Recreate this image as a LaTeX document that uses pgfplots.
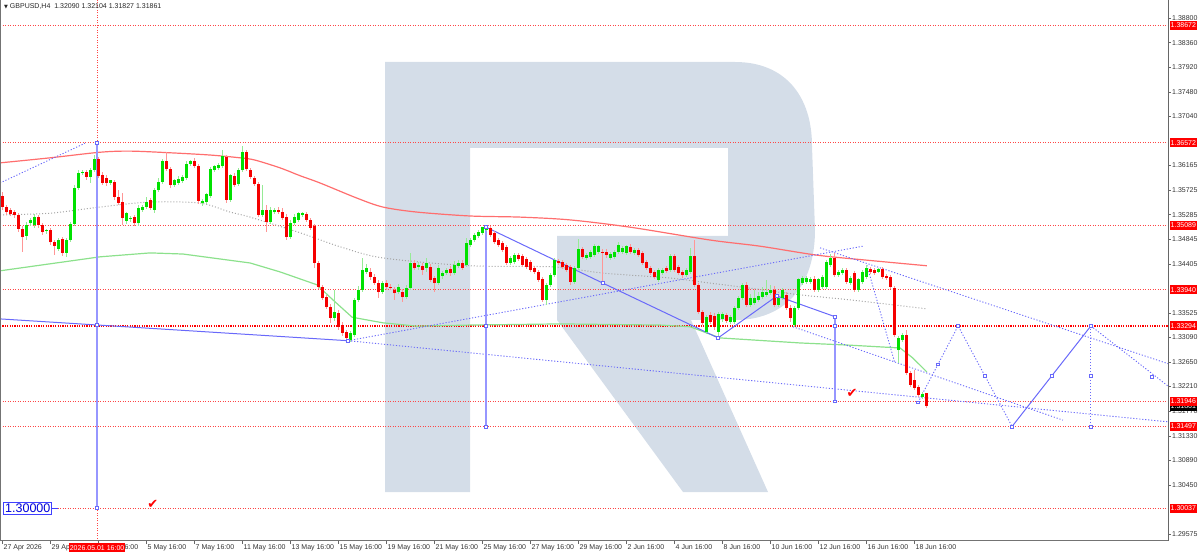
\documentclass[border=0pt]{standalone}
\usepackage{fontspec}
\setmainfont{Liberation Sans}
\newfontfamily\dejavu{DejaVu Sans}
\usepackage{pgfplots}
\usepackage{pgfplotstable}
\pgfplotsset{compat=1.18}
\definecolor{bullG}{RGB}{0,225,0}
\definecolor{bearR}{RGB}{245,0,0}
\definecolor{wickG}{RGB}{150,235,150}
\definecolor{wickR}{RGB}{255,150,150}
\definecolor{maRed}{RGB}{255,110,110}
\definecolor{maGray}{RGB}{165,165,165}
\definecolor{maGreen}{RGB}{140,225,140}
\definecolor{lvl}{RGB}{255,70,70}
\definecolor{fcBlue}{RGB}{105,105,250}
\definecolor{vBlue}{RGB}{150,150,255}
\definecolor{wm}{RGB}{212,221,232}
\newcommand\fs{\fontsize{7}{8}\selectfont}
\newcommand\plabel[2]{\node[anchor=west, fill=#1, text=white, font=\fs, inner xsep=1pt, inner ysep=0pt, minimum height=9pt]
    at (axis cs:291.375,#2) [xshift=1.5pt] {#2};}

% GBPUSD H4 candles: bar index, open, high, low, close
\pgfplotstableread{
i o h l c
0 1.3562 1.3569 1.3537 1.3542
1 1.3542 1.3546 1.3528 1.3533
2 1.3537 1.3540 1.3526 1.3530
3 1.3533 1.3537 1.3522 1.3528
4 1.3528 1.3531 1.3497 1.3503
5 1.3503 1.3508 1.3462 1.3488
6 1.3490 1.3515 1.3483 1.3510
7 1.3513 1.3522 1.3508 1.3519
8 1.3510 1.3530 1.3505 1.3524
9 1.3524 1.3528 1.3505 1.3510
10 1.3510 1.3513 1.3492 1.3497
11 1.3499 1.3503 1.3494 1.3501
12 1.3501 1.3505 1.3474 1.3479
13 1.3479 1.3483 1.3456 1.3472
14 1.3467 1.3487 1.3463 1.3483
15 1.3485 1.3488 1.3454 1.3460
16 1.3460 1.3487 1.3453 1.3483
17 1.3483 1.3515 1.3479 1.3512
18 1.3512 1.3581 1.3508 1.3576
19 1.3576 1.3608 1.3572 1.3603
20 1.3603 1.3608 1.3599 1.3605
21 1.3605 1.3608 1.3590 1.3596
22 1.3596 1.3612 1.3585 1.3608
23 1.3608 1.3635 1.3605 1.3628
24 1.3628 1.3632 1.3594 1.3598
25 1.3599 1.3605 1.3581 1.3585
26 1.3594 1.3599 1.3580 1.3585
27 1.3585 1.3590 1.3581 1.3589
28 1.3587 1.3590 1.3555 1.3560
29 1.3560 1.3572 1.3546 1.3549
30 1.3551 1.3567 1.3510 1.3522
31 1.3517 1.3533 1.3512 1.3530
32 1.3521 1.3526 1.3515 1.3522
33 1.3524 1.3528 1.3508 1.3513
34 1.3513 1.3546 1.3508 1.3540
35 1.3537 1.3546 1.3533 1.3542
36 1.3542 1.3560 1.3538 1.3551
37 1.3555 1.3558 1.3537 1.3540
38 1.3537 1.3576 1.3531 1.3572
39 1.3572 1.3594 1.3569 1.3587
40 1.3587 1.3628 1.3583 1.3624
41 1.3624 1.3640 1.3606 1.3610
42 1.3610 1.3614 1.3576 1.3581
43 1.3581 1.3592 1.3578 1.3589
44 1.3585 1.3598 1.3581 1.3592
45 1.3589 1.3599 1.3585 1.3596
46 1.3594 1.3624 1.3590 1.3619
47 1.3619 1.3626 1.3615 1.3624
48 1.3624 1.3630 1.3612 1.3615
49 1.3615 1.3619 1.3547 1.3553
50 1.3549 1.3556 1.3544 1.3553
51 1.3551 1.3567 1.3547 1.3564
52 1.3562 1.3614 1.3558 1.3610
53 1.3608 1.3617 1.3605 1.3614
54 1.3612 1.3621 1.3608 1.3617
55 1.3615 1.3644 1.3612 1.3633
56 1.3632 1.3635 1.3549 1.3555
57 1.3555 1.3601 1.3551 1.3598
58 1.3598 1.3603 1.3578 1.3581
59 1.3583 1.3612 1.3580 1.3608
60 1.3608 1.3651 1.3605 1.3640
61 1.3640 1.3644 1.3606 1.3610
62 1.3608 1.3612 1.3592 1.3596
63 1.3594 1.3598 1.3580 1.3583
64 1.3583 1.3587 1.3524 1.3528
65 1.3528 1.3581 1.3524 1.3537
66 1.3537 1.3546 1.3497 1.3515
67 1.3515 1.3542 1.3512 1.3537
68 1.3533 1.3540 1.3530 1.3537
69 1.3537 1.3542 1.3530 1.3533
70 1.3533 1.3540 1.3519 1.3522
71 1.3524 1.3530 1.3483 1.3488
72 1.3488 1.3519 1.3485 1.3513
73 1.3513 1.3530 1.3510 1.3524
74 1.3519 1.3533 1.3515 1.3530
75 1.3528 1.3533 1.3524 1.3530
76 1.3530 1.3533 1.3515 1.3519
77 1.3519 1.3522 1.3501 1.3505
78 1.3508 1.3512 1.3433 1.3442
79 1.3442 1.3446 1.3395 1.3399
80 1.3399 1.3403 1.3376 1.3379
81 1.3381 1.3385 1.3360 1.3363
82 1.3363 1.3369 1.3335 1.3344
83 1.3344 1.3394 1.3338 1.3353
84 1.3353 1.3358 1.3322 1.3328
85 1.3331 1.3336 1.3311 1.3317
86 1.3319 1.3322 1.3304 1.3308
87 1.3304 1.3320 1.3301 1.3317
88 1.3313 1.3379 1.3310 1.3376
89 1.3376 1.3401 1.3372 1.3394
90 1.3394 1.3451 1.3390 1.3429
91 1.3426 1.3440 1.3422 1.3433
92 1.3426 1.3433 1.3412 1.3417
93 1.3417 1.3422 1.3403 1.3406
94 1.3406 1.3412 1.3379 1.3390
95 1.3390 1.3410 1.3387 1.3406
96 1.3406 1.3412 1.3394 1.3399
97 1.3399 1.3404 1.3394 1.3397
98 1.3394 1.3399 1.3376 1.3388
99 1.3390 1.3404 1.3387 1.3399
100 1.3390 1.3395 1.3372 1.3381
101 1.3381 1.3403 1.3378 1.3397
102 1.3397 1.3460 1.3394 1.3442
103 1.3442 1.3447 1.3429 1.3433
104 1.3435 1.3444 1.3429 1.3437
105 1.3437 1.3442 1.3420 1.3429
106 1.3433 1.3451 1.3426 1.3442
107 1.3435 1.3440 1.3408 1.3412
108 1.3415 1.3419 1.3390 1.3406
109 1.3406 1.3438 1.3403 1.3433
110 1.3419 1.3428 1.3413 1.3424
111 1.3424 1.3433 1.3420 1.3429
112 1.3431 1.3437 1.3419 1.3424
113 1.3424 1.3446 1.3420 1.3438
114 1.3437 1.3447 1.3433 1.3442
115 1.3442 1.3447 1.3429 1.3433
116 1.3438 1.3487 1.3435 1.3478
117 1.3474 1.3487 1.3471 1.3483
118 1.3483 1.3496 1.3479 1.3492
119 1.3490 1.3501 1.3487 1.3497
120 1.3496 1.3506 1.3492 1.3505
121 1.3501 1.3510 1.3499 1.3506
122 1.3505 1.3508 1.3488 1.3492
123 1.3496 1.3499 1.3476 1.3479
124 1.3483 1.3487 1.3471 1.3474
125 1.3478 1.3481 1.3462 1.3465
126 1.3471 1.3474 1.3438 1.3442
127 1.3442 1.3454 1.3438 1.3451
128 1.3444 1.3460 1.3440 1.3456
129 1.3456 1.3460 1.3446 1.3449
130 1.3454 1.3458 1.3435 1.3438
131 1.3449 1.3453 1.3431 1.3435
132 1.3444 1.3447 1.3426 1.3429
133 1.3433 1.3437 1.3422 1.3426
134 1.3426 1.3429 1.3408 1.3412
135 1.3413 1.3417 1.3372 1.3376
136 1.3376 1.3406 1.3367 1.3403
137 1.3403 1.3424 1.3399 1.3420
138 1.3420 1.3451 1.3417 1.3447
139 1.3446 1.3449 1.3438 1.3442
140 1.3444 1.3447 1.3431 1.3435
141 1.3438 1.3442 1.3426 1.3429
142 1.3435 1.3438 1.3403 1.3408
143 1.3408 1.3437 1.3404 1.3433
144 1.3433 1.3485 1.3429 1.3467
145 1.3467 1.3471 1.3449 1.3453
146 1.3451 1.3460 1.3447 1.3456
147 1.3453 1.3465 1.3449 1.3462
148 1.3456 1.3476 1.3453 1.3471
149 1.3462 1.3474 1.3458 1.3471
150 1.3462 1.3467 1.3406 1.3460
151 1.3462 1.3467 1.3451 1.3456
152 1.3451 1.3462 1.3447 1.3458
153 1.3453 1.3465 1.3449 1.3462
154 1.3462 1.3479 1.3458 1.3474
155 1.3462 1.3472 1.3458 1.3469
156 1.3460 1.3474 1.3456 1.3472
157 1.3471 1.3476 1.3458 1.3462
158 1.3460 1.3469 1.3456 1.3465
159 1.3465 1.3469 1.3453 1.3456
160 1.3460 1.3463 1.3438 1.3442
161 1.3444 1.3447 1.3429 1.3433
162 1.3433 1.3437 1.3420 1.3424
163 1.3426 1.3429 1.3413 1.3417
164 1.3412 1.3433 1.3408 1.3429
165 1.3424 1.3433 1.3420 1.3429
166 1.3433 1.3437 1.3424 1.3428
167 1.3429 1.3458 1.3426 1.3454
168 1.3454 1.3458 1.3426 1.3429
169 1.3435 1.3438 1.3420 1.3424
170 1.3426 1.3429 1.3415 1.3420
171 1.3420 1.3433 1.3417 1.3429
172 1.3426 1.3469 1.3422 1.3454
173 1.3454 1.3483 1.3399 1.3403
174 1.3403 1.3406 1.3351 1.3354
175 1.3354 1.3358 1.3331 1.3335
176 1.3319 1.3349 1.3315 1.3345
177 1.3349 1.3354 1.3333 1.3336
178 1.3347 1.3353 1.3322 1.3328
179 1.3319 1.3354 1.3308 1.3351
180 1.3342 1.3354 1.3336 1.3351
181 1.3349 1.3353 1.3335 1.3338
182 1.3336 1.3349 1.3333 1.3345
183 1.3336 1.3365 1.3333 1.3361
184 1.3361 1.3383 1.3358 1.3379
185 1.3379 1.3406 1.3376 1.3403
186 1.3403 1.3408 1.3363 1.3367
187 1.3367 1.3387 1.3363 1.3379
188 1.3370 1.3394 1.3367 1.3379
189 1.3376 1.3390 1.3372 1.3383
190 1.3381 1.3399 1.3378 1.3390
191 1.3385 1.3412 1.3381 1.3390
192 1.3388 1.3403 1.3385 1.3394
193 1.3394 1.3401 1.3363 1.3367
194 1.3367 1.3385 1.3363 1.3379
195 1.3379 1.3397 1.3376 1.3394
196 1.3385 1.3390 1.3358 1.3361
197 1.3361 1.3367 1.3336 1.3344
198 1.3331 1.3365 1.3328 1.3361
199 1.3361 1.3415 1.3358 1.3412
200 1.3406 1.3419 1.3403 1.3415
201 1.3408 1.3419 1.3404 1.3415
202 1.3408 1.3417 1.3404 1.3413
203 1.3413 1.3419 1.3390 1.3394
204 1.3394 1.3415 1.3390 1.3412
205 1.3399 1.3420 1.3395 1.3417
206 1.3399 1.3447 1.3395 1.3444
207 1.3438 1.3458 1.3435 1.3451
208 1.3451 1.3460 1.3417 1.3420
209 1.3420 1.3429 1.3417 1.3426
210 1.3424 1.3433 1.3420 1.3429
211 1.3429 1.3433 1.3404 1.3408
212 1.3406 1.3419 1.3403 1.3415
213 1.3424 1.3428 1.3390 1.3394
214 1.3394 1.3415 1.3390 1.3412
215 1.3408 1.3429 1.3404 1.3426
216 1.3417 1.3438 1.3413 1.3433
217 1.3431 1.3435 1.3422 1.3426
218 1.3429 1.3433 1.3420 1.3424
219 1.3426 1.3433 1.3424 1.3431
220 1.3431 1.3435 1.3413 1.3417
221 1.3419 1.3422 1.3412 1.3415
222 1.3417 1.3420 1.3395 1.3399
223 1.3397 1.3401 1.3310 1.3313
224 1.3286 1.3311 1.3263 1.3308
225 1.3304 1.3317 1.3301 1.3313
226 1.3313 1.3322 1.3242 1.3245
227 1.3245 1.3249 1.3220 1.3224
228 1.3233 1.3251 1.3215 1.3219
229 1.3220 1.3224 1.3202 1.3206
230 1.3202 1.3211 1.3199 1.3208
231 1.32090 1.32104 1.31827 1.31861
}\candles

\begin{document}
\begin{tikzpicture}[x=1pt,y=1pt]
\useasboundingbox (0,-14) rectangle (1200,541);
% watermark logo
\fill[wm] (385,479) -- (735,479) .. controls (785,479) and (812,445) .. (812,395)
  -- (815,311) .. controls (815,255) and (785,221) .. (735,221) -- (691,221)
  -- (768,49) -- (683,49) -- (557,221) -- (557,305) -- (728,305) -- (728,393)
  -- (470,393) -- (470,49) -- (385,49) -- cycle;

\begin{axis}[
  at={(0,0)}, anchor=south west,
  scale only axis, width=1168pt, height=541pt,
  xmin=-0.625, xmax=291.375, ymin=1.29449, ymax=1.39122,
  axis line style={draw=none},
  clip mode=individual,
  tick align=outside, major tick length=3pt,
  tick style={color=black!60, line width=0.5pt},
  ytick pos=right, xtick pos=bottom,
  yticklabel pos=right,
  ticklabel style={font=\fs, text=black!80},
  yticklabel style={anchor=west, inner sep=1pt},
  xticklabel style={anchor=north west, inner sep=1pt, yshift=1pt},
  ytick={1.38800,1.38360,1.37920,1.37480,1.37040,1.36165,1.35725,1.35285,1.34845,1.34405,1.33525,1.33090,1.32650,1.32210,1.31770,1.31330,1.30890,1.30450,1.29575},
  yticklabels={1.38800,1.38360,1.37920,1.37480,1.37040,1.36165,1.35725,1.35285,1.34845,1.34405,1.33525,1.33090,1.32650,1.32210,1.31770,1.31330,1.30890,1.30450,1.29575},
  xtick={0,12,...,228},
  xticklabels={27 Apr 2026,29 Apr 16:00,1 May 16:00,5 May 16:00,7 May 16:00,11 May 16:00,13 May 16:00,15 May 16:00,19 May 16:00,21 May 16:00,25 May 16:00,27 May 16:00,29 May 16:00,2 Jun 16:00,4 Jun 16:00,8 Jun 16:00,10 Jun 16:00,12 Jun 16:00,16 Jun 16:00,18 Jun 16:00},
  lvlline/.style={lvl, line width=1pt, dash pattern=on 1pt off 1.5pt},
  fcdot/.style={fcBlue, line width=0.9pt, dash pattern=on 1.2pt off 1.8pt},
  fcsolid/.style={fcBlue, line width=1pt},
  fcnode/.style={only marks, mark=square*, mark size=1.4pt, mark options={draw=fcBlue, fill=white, line width=0.6pt}},
  candle/.style={draw=none, mark=none, forget plot, error bars/y explicit, error bars/error mark=none},
]
% horizontal levels
\addplot[lvlline] coordinates {(-0.625,1.38672) (291.375,1.38672)};
\addplot[lvlline] coordinates {(-0.625,1.36572) (291.375,1.36572)};
\addplot[lvlline] coordinates {(-0.625,1.35089) (291.375,1.35089)};
\addplot[lvlline] coordinates {(-0.625,1.33940) (291.375,1.33940)};
\addplot[draw={rgb,255:red,255;green,0;blue,0}, line width=1.1pt, dash pattern=on 1.2pt off 1.2pt] coordinates {(-0.625,1.33294) (291.375,1.33294)};
\addplot[lvlline] coordinates {(-0.625,1.31946) (291.375,1.31946)};
\addplot[lvlline] coordinates {(-0.625,1.31497) (291.375,1.31497)};
\addplot[lvlline] coordinates {(-0.625,1.30037) (291.375,1.30037)};
% crosshair
\addplot[lvlline] coordinates {(23.65,1.29449) (23.65,1.39122)};

% moving averages
\addplot[maRed, line width=1.2pt, smooth] coordinates {
(-0.6,1.3621) (11.9,1.3630) (24.4,1.3640) (31.9,1.3642) (41.9,1.3639) (51.9,1.3635)
(59.4,1.3630) (63.1,1.3626) (69.4,1.3612) (74.4,1.3598) (79.4,1.3585) (88.6,1.3558)
(95.1,1.3542) (103.6,1.3533) (116.9,1.3526) (129.4,1.3524) (141.9,1.3519) (156.9,1.3506)
(176.9,1.3483) (189.4,1.3472) (203.6,1.3456) (216.1,1.3447) (231.1,1.3437)};
\addplot[maGray, line width=1pt, dash pattern=on 1pt off 2pt, smooth] coordinates {
(-0.6,1.3528) (11.9,1.3531) (24.4,1.3542) (36.9,1.3551) (49.4,1.3549) (56.9,1.3533)
(61.9,1.3524) (74.4,1.3496) (84.4,1.3471) (95.1,1.3451) (116.9,1.3437) (137.6,1.3435)
(150.1,1.3424) (166.9,1.3415) (176.9,1.3406) (186.9,1.3397) (199.4,1.3385) (211.9,1.3376)
(231.1,1.3360)};
\addplot[maGreen, line width=1.2pt] coordinates {
(-0.6,1.3428) (24.4,1.3453) (36.9,1.3460) (45.1,1.3458) (61.9,1.3442) (69.4,1.3426)
(78.6,1.3403) (82.6,1.3376) (87.4,1.3345) (95.1,1.3335) (103.6,1.3329) (116.9,1.3331)
(139.4,1.3333) (164.4,1.3331) (171.9,1.3328) (179.4,1.3308) (199.4,1.3299) (211.9,1.3295)
(224.4,1.3290) (227.6,1.3272) (231.1,1.3247)};

% forecast lines
\addplot[fcdot] coordinates {(-0.625,1.3585) (20.6,1.3656)};
\addplot[vBlue, line width=1.3pt] coordinates {(23.65,1.36572) (23.65,1.30037)};
\addplot[fcsolid] coordinates {(-0.625,1.3342) (86.4,1.3303)};
\addplot[fcdot] coordinates {(86.4,1.3303) (215.1,1.3472)};
\addplot[fcdot] coordinates {(86.4,1.3303) (291.375,1.3158)};
\addplot[fcsolid] coordinates {(120.9,1.3506) (150.1,1.3406) (178.9,1.3308) (193.6,1.3383) (208.1,1.3346)};
\addplot[vBlue, line width=1.3pt] coordinates {(120.9,1.3506) (120.9,1.31497)};
\addplot[vBlue, line width=1.3pt] coordinates {(208.1,1.3346) (208.1,1.31946)};
\addplot[fcdot] coordinates {(204.4,1.3469) (291.375,1.3262)};
\addplot[fcdot] coordinates {(216.1,1.3438) (223.1,1.3263)};
\addplot[fcdot] coordinates {(197.6,1.3328) (265.1,1.3161)};
\addplot[fcdot] coordinates {(228.9,1.3193) (238.9,1.33294) (252.4,1.31497)};
\addplot[fcsolid] coordinates {(252.4,1.31497) (272.1,1.33294)};
\addplot[fcdot] coordinates {(272.1,1.33294) (291.375,1.3222)};
\addplot[fcdot] coordinates {(272.1,1.33294) (272.1,1.31497)};

% candles: wicks then bodies
\addplot[candle, restrict expr to domain={\thisrow{c}-\thisrow{o}}{0:1},
  error bars/y dir=both, error bars/error bar style={draw=wickG, line width=1pt}]
  table[x=i, y=o, y error plus expr={\thisrow{h}-\thisrow{o}}, y error minus expr={\thisrow{o}-\thisrow{l}}] {\candles};
\addplot[candle, restrict expr to domain={\thisrow{c}-\thisrow{o}}{-1:-0.000001},
  error bars/y dir=both, error bars/error bar style={draw=wickR, line width=1pt}]
  table[x=i, y=o, y error plus expr={\thisrow{h}-\thisrow{o}}, y error minus expr={\thisrow{o}-\thisrow{l}}] {\candles};
\addplot[candle, restrict expr to domain={\thisrow{c}-\thisrow{o}}{0:1},
  error bars/y dir=plus, error bars/error bar style={draw=bullG, line width=3pt}]
  table[x=i, y=o, y error plus expr={\thisrow{c}-\thisrow{o}+0.00005}, y error minus expr={0}] {\candles};
\addplot[candle, restrict expr to domain={\thisrow{c}-\thisrow{o}}{-1:-0.000001},
  error bars/y dir=plus, error bars/error bar style={draw=bearR, line width=3pt}]
  table[x=i, y=c, y error plus expr={\thisrow{o}-\thisrow{c}}, y error minus expr={0}] {\candles};

% forecast nodes
\addplot[fcnode] coordinates {(23.65,1.36572) (23.65,1.3331) (23.65,1.30037)
 (86.4,1.3303) (120.9,1.3506) (120.9,1.33294) (120.9,1.31497)
 (150.1,1.3406) (178.9,1.3308) (193.6,1.3383) (208.1,1.3346) (208.1,1.33294) (208.1,1.31946)
 (228.9,1.3193) (233.9,1.3261) (238.9,1.33294) (245.65,1.32396) (252.4,1.31497)
 (262.25,1.32396) (272.1,1.33294) (272.1,1.32396) (272.1,1.31497) (287.4,1.3239)};

% annotations
\node[anchor=north west, font=\fs, inner sep=0pt, text=black!85] at (rel axis cs:0,1) [xshift=4pt, yshift=-3pt]
  {{\dejavu\fontsize{5}{6}\selectfont ▼}\ GBPUSD,H4\ \ 1.32090 1.32104 1.31827 1.31861};
\node[anchor=west, draw=blue!75, text=blue!85!black, fill=white, inner xsep=1.5pt, inner ysep=1.5pt,
  font=\fontsize{12.5}{13}\selectfont, line width=0.8pt] at (axis cs:0.2,1.30037) {1.30000};
\draw[blue!75, line width=0.8pt] (axis cs:12.4,1.30037) -- (axis cs:13.8,1.30037);
\node[text=red, font=\dejavu\fontsize{13}{14}\selectfont, inner sep=0pt] at (axis cs:37.6,1.3011) {✔};
\node[text=red, font=\dejavu\fontsize{13}{14}\selectfont, inner sep=0pt] at (axis cs:212.4,1.3208) {✔};

% price labels on the right axis
\plabel{red}{1.38672}
\plabel{red}{1.36572}
\plabel{red}{1.35089}
\plabel{red}{1.33940}
\plabel{red}{1.33294}
\plabel{black}{1.31861}
\plabel{red}{1.31946}
\plabel{red}{1.31497}
\plabel{red}{1.30037}
\node[anchor=north, fill=red, text=white, font=\fs, inner xsep=1pt, inner ysep=0pt, minimum height=9pt]
  at (axis cs:23.65,1.29449) [yshift=-2pt] {2026.05.01 16:00};
\end{axis}
% chart frame
\draw[black!55, line width=0.8pt] (0.5,0) -- (0.5,541);
\draw[black!55, line width=0.8pt] (0,0.4) -- (1168,0.4);
\draw[black!60, line width=0.8pt] (1168,0) -- (1168,541);
\end{tikzpicture}
\end{document}
